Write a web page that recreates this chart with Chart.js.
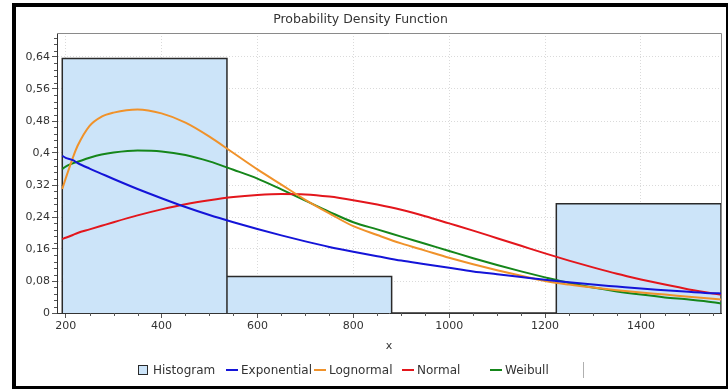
<!DOCTYPE html>
<html><head><meta charset="utf-8">
<script src="https://cdn.jsdelivr.net/npm/chart.js@4/dist/chart.umd.min.js"></script>
<style>
html,body{margin:0;padding:0;background:#fff;}
#wrap{position:relative;width:728px;height:389px;overflow:hidden;background:#fff;}
#c{position:absolute;left:0;top:0;}
#frame{position:absolute;left:12px;top:3px;width:718px;height:387px;box-sizing:border-box;border:4px solid #000;pointer-events:none;}
#legend{position:absolute;left:138px;top:362px;height:16px;display:flex;font-family:'DejaVu Sans';font-size:12px;color:#333;}
#legend .item{width:88px;display:flex;align-items:center;white-space:nowrap;}
#legend .sw{flex:none;margin-right:3px;}
#legend .sep{width:1px;height:16px;background:#b0b0b0;margin-left:5px;}
</style></head><body>
<div id="wrap"><canvas id="c" width="728" height="389"></canvas><div id="legend"></div><div id="frame"></div></div>
<script>
// ---- data ----
const xValues = [193,200,215,225,250,275,300,350,400,450,500,550,600,650,700,750,800,850,900,950,1000,1050,1100,1150,1200,1250,1300,1350,1400,1450,1500,1550,1567];
const exponential = [0.393,0.388,0.382,0.375,0.361,0.348,0.335,0.31,0.287,0.265,0.245,0.227,0.21,0.194,0.179,0.165,0.153,0.142,0.131,0.122,0.113,0.104,0.097,0.090,0.083,0.077,0.071,0.066,0.061,0.057,0.053,0.0495,0.049];
const lognormal = [0.31,0.336,0.388,0.418,0.468,0.491,0.501,0.509,0.499,0.476,0.441,0.40,0.359,0.321,0.283,0.249,0.217,0.195,0.174,0.156,0.138,0.122,0.107,0.093,0.080,0.071,0.0635,0.057,0.051,0.046,0.0405,0.0355,0.034];
const normal = [0.185,0.188,0.195,0.2,0.209,0.218,0.227,0.244,0.259,0.272,0.282,0.29,0.295,0.2975,0.2965,0.291,0.282,0.271,0.258,0.242,0.224,0.206,0.187,0.168,0.149,0.131,0.114,0.098,0.084,0.071,0.059,0.049,0.046];
const weibull = [0.36,0.366,0.374,0.378,0.388,0.396,0.401,0.406,0.404,0.395,0.379,0.358,0.336,0.309,0.281,0.253,0.227,0.209,0.191,0.173,0.155,0.137,0.12,0.104,0.089,0.075,0.0635,0.054,0.046,0.039,0.0335,0.027,0.024];
const binEdges = [193,536.5,880,1223.5,1567];
const binFreq = [0.636,0.091,0,0.273];
const xTickValues = [200,400,600,800,1000,1200,1400];
const xMinorTicks = [250,300,350,450,500,550,650,700,750,850,900,950,1050,1100,1150,1250,1300,1350,1450,1500,1550];
const yTickValues = [0,0.08,0.16,0.24,0.32,0.4,0.48,0.56,0.64];
const yMinorTicks = [0.016,0.032,0.048,0.064,0.096,0.112,0.128,0.144,0.176,0.192,0.208,0.224,0.256,0.272,0.288,0.304,0.336,0.352,0.368,0.384,0.416,0.432,0.448,0.464,0.496,0.512,0.528,0.544,0.576,0.592,0.608,0.624,0.656,0.672,0.688];
const seriesNames = ['Histogram','Exponential','Lognormal','Normal','Weibull'];
const seriesColors = ['#cce4f9','#1414d8','#f0922a','#e3161c','#15861a'];
const histBorder = '#2a2a2a';

// ---- build datasets ----
const histPoints = [];
binFreq.forEach((f,i)=>{
  histPoints.push({x:binEdges[i],y:0},{x:binEdges[i],y:f},{x:binEdges[i+1],y:f},{x:binEdges[i+1],y:0});
});
function curve(vals){ return xValues.map((x,i)=>({x:x,y:vals[i]})); }
const FONT = 'DejaVu Sans';

// ---- HTML legend (equal-width columns as in the reference) ----
const lg = document.getElementById('legend');
seriesNames.forEach((name,i)=>{
  const it = document.createElement('div'); it.className='item';
  const sw = document.createElement('span'); sw.className='sw';
  if (i===0){ sw.style.cssText='width:10px;height:10px;box-sizing:border-box;border:1px solid '+histBorder+';background:'+seriesColors[0]+';margin-right:5px;'; }
  else { sw.style.cssText='width:12px;height:2px;background:'+seriesColors[i]+';'; }
  const tx = document.createElement('span'); tx.textContent = name;
  it.appendChild(sw); it.appendChild(tx); lg.appendChild(it);
});
const sep = document.createElement('div'); sep.className='sep'; lg.appendChild(sep);

const extras = {
  id:'extras',
  afterDatasetsDraw(chart){
    const {ctx, chartArea:a, scales:{x,y}} = chart;
    ctx.save();
    ctx.strokeStyle = '#555'; ctx.lineWidth = 1;
    ctx.beginPath();
    xMinorTicks.forEach(v=>{ const px=Math.round(x.getPixelForValue(v))+0.5; ctx.moveTo(px,a.bottom); ctx.lineTo(px,a.bottom+3); });
    yMinorTicks.forEach(v=>{ const py=Math.round(y.getPixelForValue(v))+0.5; ctx.moveTo(a.left-3,py); ctx.lineTo(a.left,py); });
    ctx.stroke();
    ctx.strokeStyle = '#8a8a8a';
    ctx.beginPath();
    ctx.moveTo(a.left, Math.round(a.top)+0.5); ctx.lineTo(Math.round(a.right)+0.5, Math.round(a.top)+0.5);
    ctx.lineTo(Math.round(a.right)+0.5, a.bottom);
    ctx.stroke();
    ctx.restore();
  }
};

new Chart(document.getElementById('c'), {
  type:'line',
  data:{ datasets:[
    {label:seriesNames[0], data:histPoints, backgroundColor:seriesColors[0], borderColor:histBorder, borderWidth:1.5, fill:'origin', tension:0, pointRadius:0, order:1},
    {label:seriesNames[1], data:curve(exponential), borderColor:seriesColors[1], borderWidth:2, fill:false, cubicInterpolationMode:'monotone', pointRadius:0},
    {label:seriesNames[2], data:curve(lognormal), borderColor:seriesColors[2], borderWidth:2, fill:false, cubicInterpolationMode:'monotone', pointRadius:0},
    {label:seriesNames[3], data:curve(normal), borderColor:seriesColors[3], borderWidth:2, fill:false, cubicInterpolationMode:'monotone', pointRadius:0},
    {label:seriesNames[4], data:curve(weibull), borderColor:seriesColors[4], borderWidth:2, fill:false, cubicInterpolationMode:'monotone', pointRadius:0}
  ]},
  options:{
    responsive:false, animation:false, devicePixelRatio:1, events:[],
    layout:{padding:{left:0,right:7,top:0,bottom:30}},
    plugins:{
      title:{display:true, text:'Probability Density Function', color:'#333', font:{family:FONT,size:12.5,weight:'normal'}, padding:{top:12,bottom:6}},
      legend:{display:false},
      tooltip:{enabled:false}
    },
    scales:{
      x:{type:'linear', min:182, max:1567,
        afterBuildTicks:s=>{ s.ticks = xTickValues.map(v=>({value:v})); },
        afterFit:s=>{ s.height = 46; },
        ticks:{autoSkip:false, maxRotation:0, padding:2, color:'#333', font:{family:FONT,size:11}, callback:v=>String(v)},
        grid:{color:'#dadada', lineWidth:1, tickLength:5, tickColor:'#555', tickBorderDash:[]},
        border:{display:true, color:'#333', width:1, dash:[1,2]},
        title:{display:true, text:'x', color:'#333', font:{family:FONT,size:11}, padding:{top:0,bottom:6}}
      },
      y:{type:'linear', min:0, max:0.7,
        afterBuildTicks:s=>{ s.ticks = yTickValues.map(v=>({value:v})); },
        afterFit:s=>{ s.width = 57; },
        ticks:{autoSkip:false, padding:2, color:'#333', font:{family:FONT,size:11}, callback:v=>String(+Number(v).toFixed(3)).replace('.',',')},
        grid:{color:'#dadada', lineWidth:1, tickLength:5, tickColor:'#555', tickBorderDash:[]},
        border:{display:true, color:'#333', width:1, dash:[1,2]}
      }
    }
  },
  plugins:[extras]
});
</script>
</body></html>
